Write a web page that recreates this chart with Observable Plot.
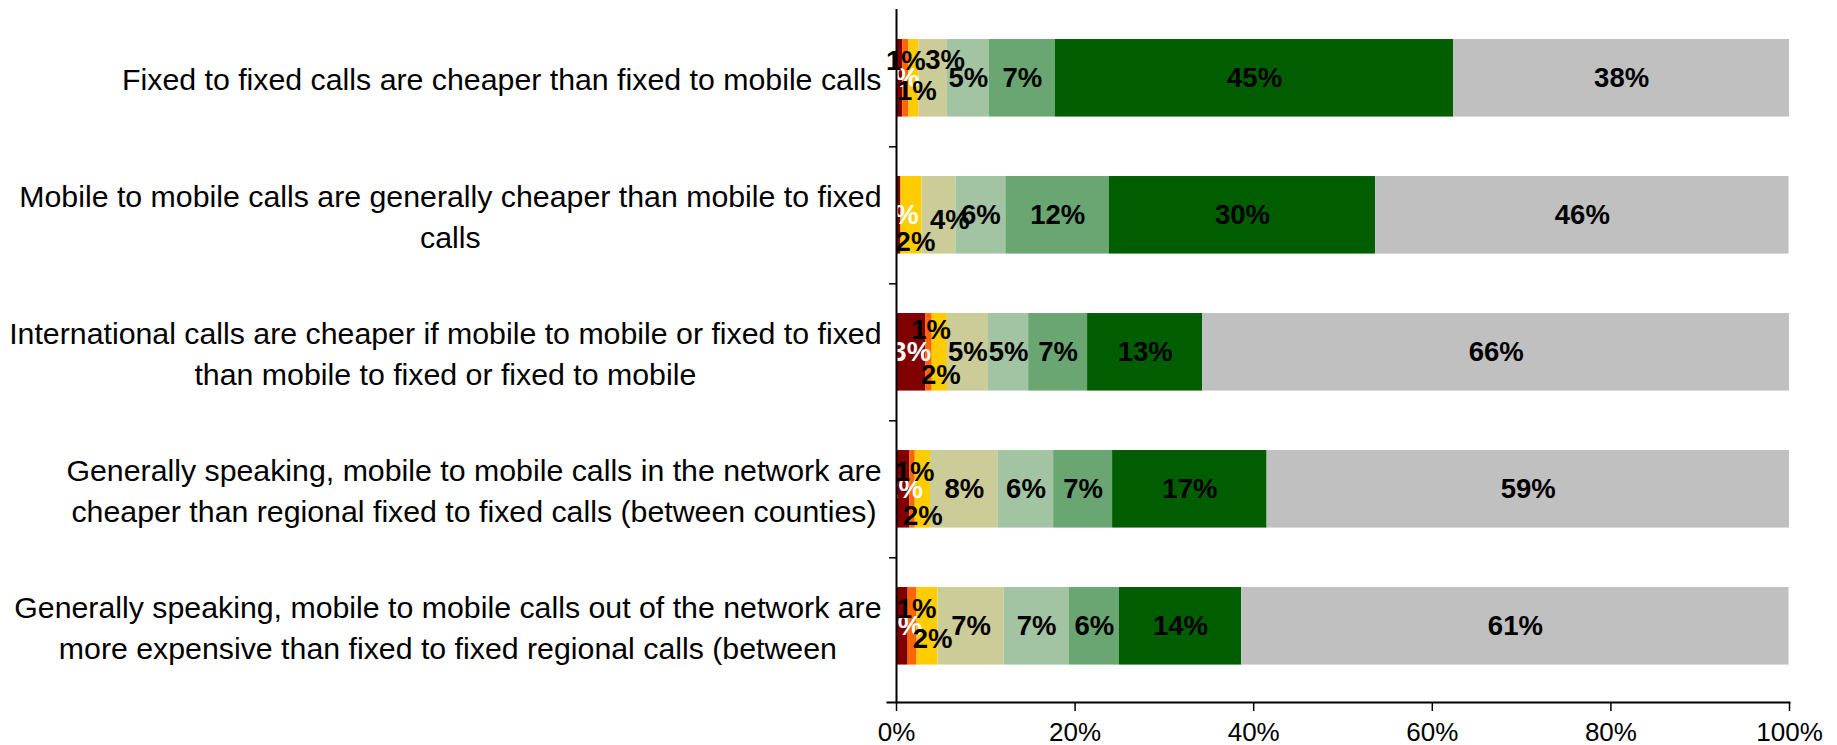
<!DOCTYPE html>
<html><head><meta charset="utf-8">
<script src="https://cdn.jsdelivr.net/npm/d3@7"></script>
<script src="https://cdn.jsdelivr.net/npm/@observablehq/plot@0.6"></script>
<style>html,body{margin:0;padding:0;background:#fff;} #chart svg{display:block}</style>
</head><body><div id="chart"></div>
<script>
// ---- data ----
const questions = [
  "Fixed to fixed calls are cheaper than fixed to mobile calls",
  "Mobile to mobile calls are generally cheaper than mobile to fixed\ncalls",
  "International calls are cheaper if mobile to mobile or fixed to fixed\nthan mobile to fixed or fixed to mobile",
  "Generally speaking, mobile to mobile calls in the network are\ncheaper than regional fixed to fixed calls (between counties)",
  "Generally speaking, mobile to mobile calls out of the network are\nmore expensive than fixed to fixed regional calls (between"
];
const levels = ["1", "2", "3", "4", "5", "6", "7", "Don't know"];
const level1   = [0.7, 0.5, 3.3, 1.5, 1.3];
const level2   = [0.7, 0,   0.7, 0.6, 1.0];
const level3   = [1.1, 2.35, 1.7, 1.7, 2.35];
const level4   = [3.2, 3.8, 4.6, 7.6, 7.4];
const level5   = [4.7, 5.6, 4.5, 6.2, 7.3];
const level6   = [7.4, 11.6, 6.6, 6.6, 5.6];
const level7   = [44.6, 29.8, 12.9, 17.3, 13.7];
const dontKnow = [37.6, 46.3, 65.7, 58.5, 61.3];
const xTicks = [0, 20, 40, 60, 80, 100];

// ---- styling / layout ----
const colors = ["#800000", "#FF6600", "#FFCC00", "#CCCC99", "#A2C4A2", "#69A672", "#005E00", "#C0C0C0"];
const font = "'Liberation Sans', Arial, Helvetica, sans-serif";
const W = 1837, H = 745;
const mL = 896, mR = 48, mT = 9, mB = 43;
const yRange = [9.3, 694.3], padIn = 0.434, padOut = 0.217;
const step = (yRange[1] - yRange[0]) / (questions.length - padIn + 2 * padOut);
// manual nudges for data labels of thin segments (question index, level index, px offsets)
const labelNudges = [
  {q: 0, l: 1, dx: 0, dy: -17}, {q: 0, l: 2, dx: 3, dy: 13}, {q: 0, l: 3, dx: 12, dy: -18},
  {q: 1, l: 2, dx: 4, dy: 27}, {q: 1, l: 3, dx: 11, dy: 5},
  {q: 2, l: 1, dx: 2, dy: -22}, {q: 2, l: 2, dx: 1, dy: 23},
  {q: 3, l: 1, dx: 2, dy: -17}, {q: 3, l: 2, dx: 0, dy: 27},
  {q: 4, l: 1, dx: 4, dy: -17}, {q: 4, l: 2, dx: 5, dy: 13}
];

const series = [level1, level2, level3, level4, level5, level6, level7, dontKnow];
const rows = [];
series.forEach((vals, li) => vals.forEach((v, qi) => rows.push({q: questions[qi], qi, level: levels[li], li, value: v})));

const isNudged = d => labelNudges.some(n => n.q === d.qi && n.l === d.li);
const labelOpts = {
  x: "value", y: "q", z: "level", order: levels,
  text: d => Math.round(d.value) + "%",
  fill: d => d.li === 0 ? "white" : "black",
  fontSize: 27.5, fontWeight: "bold"
};

// measure label widths
const ctx = document.createElement("canvas").getContext("2d");
const catFont = 30.3;
ctx.font = `${catFont}px 'Liberation Sans', Arial`;
const blockWidth = s => Math.max(...s.split("\n").map(t => ctx.measureText(t).width));

const marks = [
  Plot.barX(rows, {x: "value", y: "q", fill: "level", order: levels}),
  Plot.text(rows, Plot.filter(d => d.value > 0 && !isNudged(d), Plot.stackX(labelOpts))),
  ...labelNudges.map(n => Plot.text(rows, Plot.filter(d => d.qi === n.q && d.li === n.l && d.value > 0,
      Plot.stackX({...labelOpts, dx: n.dx, dy: n.dy})))),
  Plot.ruleX([0], {stroke: "black", strokeWidth: 2}),
  Plot.frame({anchor: "bottom", stroke: "black", strokeWidth: 2, insetLeft: -9}),
  Plot.axisX({ticks: xTicks, tickFormat: d => d + "%", tickSize: 9, tickPadding: 11, fontSize: 26, label: null, strokeWidth: 1.5}),
  Plot.axisY({ticks: questions.slice(0, questions.length - 1), tickSize: 7, tickFormat: () => "", dy: step / 2, strokeWidth: 1.5, label: null}),
  ...questions.map(q => Plot.text([q], {
    y: d => d, text: d => d, frameAnchor: "left", textAnchor: "middle",
    dx: -(15 + blockWidth(q) / 2), dy: -1, lineHeight: 1.36, fontSize: catFont, fill: "black"
  }))
];

const chart = Plot.plot({
  width: W, height: H,
  marginLeft: mL, marginRight: mR, marginTop: mT, marginBottom: mB,
  style: {fontFamily: font, background: "white", color: "black", overflow: "visible"},
  x: {domain: [0, 100], axis: null},
  y: {type: "band", domain: questions, range: yRange, paddingInner: padIn, paddingOuter: padOut, round: false, axis: null},
  color: {domain: levels, range: colors},
  marks
});
document.getElementById("chart").appendChild(chart);
</script></body></html>
